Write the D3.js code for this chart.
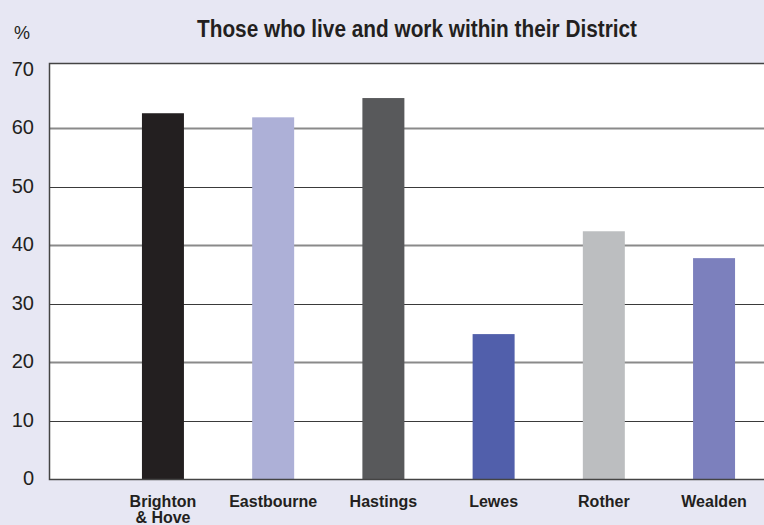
<!DOCTYPE html>
<html>
<head>
<meta charset="utf-8">
<script src="https://cdn.jsdelivr.net/npm/d3@7"></script>
<style>
  body { margin: 0; background: #e7e7f3; }
  svg { display: block; }
</style>
</head>
<body>
<div id="visualization"></div>
<script>
// data
const districts = ["Brighton\n& Hove", "Eastbourne", "Hastings", "Lewes", "Rother", "Wealden"];
const percent = [62.6, 61.9, 65.2, 24.8, 42.4, 37.8];
const barColors = ["#231f20", "#adb0d7", "#58595b", "#515fab", "#bcbec0", "#7c80bd"];
const yTicks = [0, 10, 20, 30, 40, 50, 60, 70];

const svgWidth = 764;
const svgHeight = 525;
const plot = { left: 49, top: 63, bottom: 479, right: 770 };

const svg = d3.select("#visualization")
  .append("svg")
  .attr("width", svgWidth)
  .attr("height", svgHeight);

svg.append("rect")
  .attr("width", svgWidth)
  .attr("height", svgHeight)
  .attr("fill", "#e7e7f3");

const y = d3.scaleLinear([0, 70], [plot.bottom, 70]);
const x = d3.scaleBand(districts, [108, 769]).paddingInner(0.619).paddingOuter(0.308);

// white plot area
svg.append("rect")
  .attr("x", plot.left)
  .attr("y", plot.top)
  .attr("width", plot.right - plot.left)
  .attr("height", plot.bottom - plot.top)
  .attr("fill", "#fff");

// gridlines
svg.append("g")
  .selectAll("line")
  .data(yTicks.filter(t => t > 0 && t < 70))
  .join("line")
  .attr("x1", plot.left)
  .attr("x2", plot.right)
  .attr("y1", d => Math.round(y(d)) + 0.5)
  .attr("y2", d => Math.round(y(d)) + 0.5)
  .attr("stroke", d => d % 20 === 0 ? "#8a8a8a" : "#3a3a3a")
  .attr("stroke-width", d => d % 20 === 0 ? 2 : 1);

// bars
svg.append("g")
  .selectAll("rect")
  .data(districts)
  .join("rect")
  .attr("x", d => x(d))
  .attr("y", (d, i) => y(percent[i]))
  .attr("width", x.bandwidth())
  .attr("height", (d, i) => y(0) - y(percent[i]))
  .attr("fill", (d, i) => barColors[i]);

// frame
svg.append("path")
  .attr("d", `M${plot.right},${plot.top + 0.5}H${plot.left + 0.5}V${plot.bottom + 0.5}H${plot.right}`)
  .attr("fill", "none")
  .attr("stroke", "#444")
  .attr("stroke-width", 1.5);

// y tick labels
svg.append("g")
  .selectAll("text")
  .data(yTicks)
  .join("text")
  .attr("x", 34)
  .attr("y", d => y(d) - 1)
  .attr("text-anchor", "end")
  .attr("dominant-baseline", "central")
  .style("font-family", "'Liberation Sans', Arial, sans-serif")
  .style("font-size", "20px")
  .style("fill", "#231f20")
  .text(d => d);

// x labels
const xl = svg.append("g")
  .selectAll("text")
  .data(districts)
  .join("text")
  .attr("x", d => x(d) + x.bandwidth() / 2)
  .attr("y", 507)
  .attr("text-anchor", "middle")
  .style("font-family", "'Liberation Sans', Arial, sans-serif")
  .style("font-weight", "bold")
  .style("font-size", "16px")
  .style("fill", "#231f20");

xl.selectAll("tspan")
  .data(d => d.split("\n"))
  .join("tspan")
  .attr("x", function () { return this.parentNode.getAttribute("x"); })
  .attr("dy", (d, i) => i === 0 ? 0 : 16)
  .text(d => d);

// unit label
svg.append("text")
  .attr("x", 22)
  .attr("y", 39)
  .attr("text-anchor", "middle")
  .style("font-family", "'Liberation Sans', Arial, sans-serif")
  .style("font-size", "18px")
  .style("fill", "#231f20")
  .text("%");

// title
svg.append("text")
  .attr("x", 417)
  .attr("y", 37)
  .attr("text-anchor", "middle")
  .attr("textLength", 440)
  .attr("lengthAdjust", "spacingAndGlyphs")
  .style("font-family", "'Liberation Sans', Arial, sans-serif")
  .style("font-weight", "bold")
  .style("font-size", "23px")
  .style("fill", "#231f20")
  .text("Those who live and work within their District");
</script>
</body>
</html>
